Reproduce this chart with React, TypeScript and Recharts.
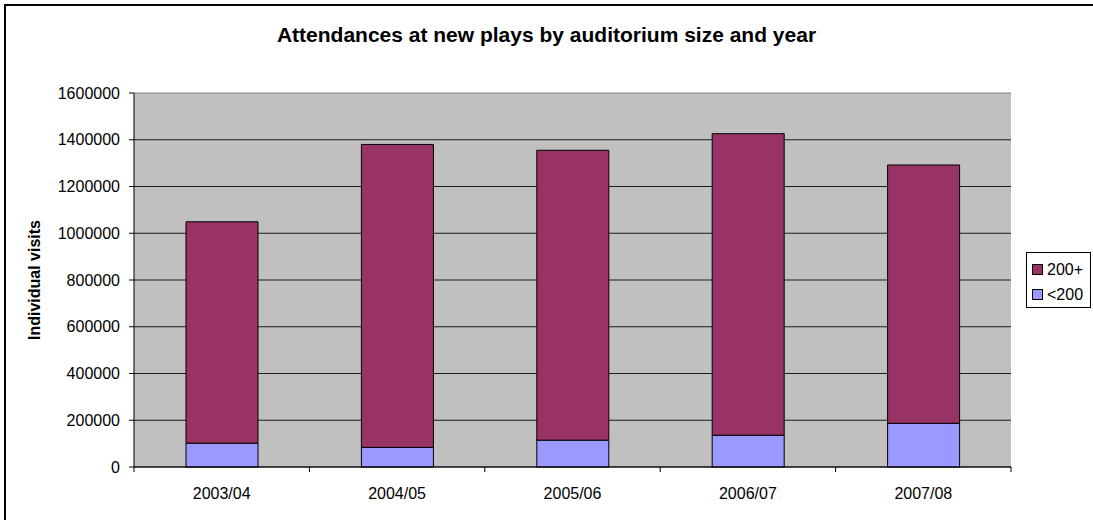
import { Bar, BarChart, CartesianGrid, ReferenceLine, XAxis, YAxis } from "recharts";

const years = ["2003/04", "2004/05", "2005/06", "2006/07", "2007/08"];
const small = [102000, 84000, 115000, 136000, 187000];
const totals = [1049000, 1380000, 1355000, 1426000, 1292000];
const yTicks = [0, 200000, 400000, 600000, 800000, 1000000, 1200000, 1400000, 1600000];

const series = [
  { key: "large", name: "200+", color: "#993366" },
  { key: "small", name: "<200", color: "#9999FF" }
];

const data = years.map((year, i) => ({
  year,
  small: small[i],
  large: totals[i] - small[i]
}));

const W = 1093;
const H = 520;
const plotLeft = 134;
const plotRight = 1011;
const plotTop = 93;
const plotBottom = 467;
const band = (plotRight - plotLeft) / years.length;
const font = "'Liberation Sans', Arial, sans-serif";

function YearTick(props: any) {
  const { x, y, payload } = props;
  const isLast = payload.value === years[years.length - 1];
  return (
    <g>
      <line x1={x - band / 2} y1={y} x2={x - band / 2} y2={y + 5} stroke="#000" />
      {isLast && <line x1={x + band / 2} y1={y} x2={x + band / 2} y2={y + 5} stroke="#000" />}
      <text x={x} y={y + 32} textAnchor="middle" fontSize={16} fontFamily={font} fill="#000">
        {payload.value}
      </text>
    </g>
  );
}

export default function App() {
  return (
    <div
      style={{
        position: "absolute",
        left: 0,
        top: 0,
        width: W,
        height: H,
        overflow: "hidden",
        background: "#fff",
        fontFamily: font
      }}
    >
      <div
        style={{
          position: "absolute",
          left: 4,
          top: 4,
          width: 1300,
          height: 800,
          border: "2px solid #000"
        }}
      />
      <div
        style={{
          position: "absolute",
          left: 0,
          top: 23,
          width: W,
          textAlign: "center",
          fontSize: 21,
          fontWeight: "bold"
        }}
      >
        Attendances at new plays by auditorium size and year
      </div>
      <div style={{ position: "absolute", left: 0, top: 0 }}>
        <BarChart
          width={W}
          height={H}
          data={data}
          margin={{ top: plotTop, right: W - plotRight, bottom: H - plotBottom - 53, left: 0 }}
        >
          <CartesianGrid
            vertical={false}
            fill="#C0C0C0"
            stroke="#000"
            strokeOpacity={0.85}
            horizontalValues={yTicks.slice(0, -1)}
          />
          <XAxis
            dataKey="year"
            height={53}
            tickSize={0}
            tickMargin={0}
            tickLine={false}
            axisLine={{ stroke: "#000" }}
            tick={<YearTick />}
            interval={0}
          />
          <YAxis
            width={plotLeft}
            domain={[0, 1600000]}
            ticks={yTicks}
            interval={0}
            tickSize={5}
            tickMargin={9}
            axisLine={{ stroke: "#000" }}
            tickLine={{ stroke: "#000" }}
            tick={{ fill: "#000", fontSize: 16, fontFamily: font }}
            label={{
              value: "Individual visits",
              angle: -90,
              position: "center",
              dx: -33,
              style: { fontWeight: "bold", fontSize: 16, fontFamily: font, fill: "#000" }
            }}
          />
          <YAxis
            yAxisId="right"
            orientation="right"
            width={0}
            domain={[0, 1600000]}
            tick={false}
            tickLine={false}
            axisLine={{ stroke: "#808080" }}
          />
          <ReferenceLine y={1600000} stroke="#808080" />
          <Bar
            dataKey="small"
            stackId="a"
            fill="#9999FF"
            stroke="#000"
            strokeWidth={1}
            barSize={72}
            isAnimationActive={false}
          />
          <Bar
            dataKey="large"
            stackId="a"
            fill="#993366"
            stroke="#000"
            strokeWidth={1}
            barSize={72}
            isAnimationActive={false}
          />
        </BarChart>
      </div>
      <div
        style={{
          position: "absolute",
          left: 1026,
          top: 252,
          width: 65,
          height: 56,
          border: "1px solid #000",
          background: "#fff",
          boxSizing: "border-box",
          padding: "4px 0 0 5px"
        }}
      >
        {series.map((s) => (
          <div key={s.key} style={{ display: "flex", alignItems: "center", height: 25, fontSize: 16 }}>
            <span
              style={{
                display: "inline-block",
                width: 9,
                height: 9,
                background: s.color,
                border: "1px solid #000",
                marginRight: 4
              }}
            />
            {s.name}
          </div>
        ))}
      </div>
    </div>
  );
}
